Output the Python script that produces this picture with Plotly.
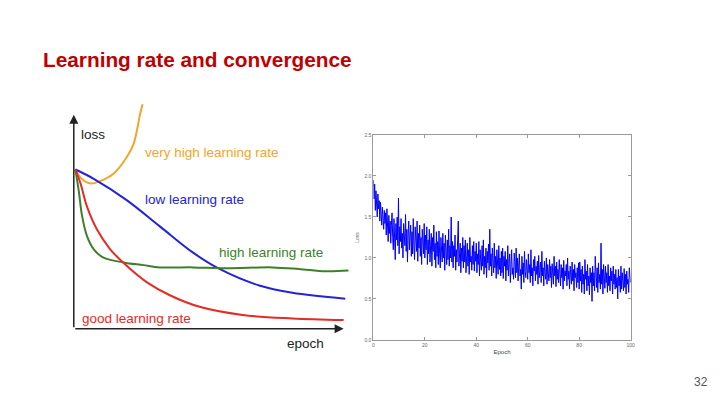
import plotly.graph_objects as go

# ---------------- Left schematic chart (arbitrary units 0-100) ----------------
very_high_epoch = [0.6, 2.5, 6.1, 9.8, 14.7, 19.6, 22.1, 23.6, 24.5, 25.5]
very_high_loss = [70.3, 66.7, 64.1, 65.2, 68.4, 75.7, 81.4, 88.7, 94.5, 99.1]

low_epoch = [0.6, 7.4, 19.6, 31.9, 44.2, 54.0, 68.7, 81.0, 100.6]
low_loss = [70.3, 66.2, 56.8, 45.2, 33.6, 26.4, 19.1, 15.9, 13.3]

high_epoch = [0.6, 1.8, 3.1, 4.9, 7.4, 11.0, 18.4, 25.8, 31.9, 44.2, 56.4, 73.6, 83.4, 93.3, 101.8]
high_loss = [70.3, 61.2, 49.6, 40.9, 35.1, 31.4, 29.3, 28.1, 27.1, 27.1, 26.7, 27.1, 26.4, 25.4, 25.7]

good_epoch = [0.6, 2.5, 4.9, 8.6, 13.5, 19.6, 27.0, 35.6, 46.6, 62.6, 81.0, 100.0]
good_loss = [70.3, 64.1, 53.9, 43.8, 35.1, 27.8, 20.6, 14.8, 9.7, 6.1, 4.6, 3.9]

# ---------------- Right training loss chart ----------------
epoch_step = 0.25
train_loss = [
    1.95, 1.72, 1.90, 1.58, 1.82, 1.65, 1.50, 1.78, 1.60, 1.70, 1.45, 1.68, 1.52, 1.40, 1.62, 1.48, 1.35, 1.58, 1.42, 1.55,
    1.28, 1.60, 1.38, 1.20, 1.52, 1.30, 1.45, 1.18, 1.40, 1.55, 1.25, 1.10, 1.48, 1.32, 0.98, 1.42, 1.22, 1.50, 1.15, 1.73,
    1.05, 1.38, 1.20, 1.48, 1.12, 1.30, 1.00, 1.42, 1.25, 1.15, 1.53, 1.08, 1.35, 0.95, 1.28, 1.45, 1.10, 1.22, 1.40, 1.02,
    1.32, 1.05, 1.48, 1.15, 0.98, 1.38, 1.22, 1.08, 1.45, 0.96, 1.30, 1.12, 1.40, 1.02, 1.25, 0.92, 1.35, 1.18, 1.05, 1.42,
    1.00, 1.28, 1.10, 1.38, 0.92, 1.22, 1.05, 1.35, 0.95, 1.15, 1.30, 0.90, 1.25, 1.08, 1.40, 0.98, 1.18, 0.88, 1.32, 1.02,
    1.20, 0.92, 1.33, 1.05, 0.88, 1.25, 1.10, 0.95, 1.30, 1.00, 1.18, 0.85, 1.28, 1.08, 0.92, 1.22, 0.98, 1.35, 0.90, 1.15,
    1.00, 1.50, 0.95, 1.20, 0.88, 1.15, 1.02, 1.28, 0.85, 1.10, 0.95, 1.22, 1.45, 0.90, 1.05, 1.18, 0.82, 1.12, 0.96, 1.25,
    0.88, 1.15, 0.95, 1.22, 0.82, 1.05, 1.18, 0.90, 1.10, 0.80, 1.25, 0.95, 1.02, 0.85, 1.15, 0.92, 1.20, 0.84, 1.08, 0.96,
    1.18, 0.82, 1.05, 0.92, 1.20, 0.78, 1.10, 0.95, 0.85, 1.15, 0.90, 1.22, 0.80, 1.02, 0.88, 1.12, 0.76, 1.08, 0.94, 1.17,
    0.85, 1.35, 0.90, 1.05, 0.78, 1.12, 0.95, 0.82, 1.18, 0.88, 1.02, 0.75, 1.10, 0.92, 0.80, 1.15, 0.86, 1.00, 0.78, 1.08,
    0.82, 1.12, 0.75, 1.02, 0.90, 1.08, 0.72, 0.98, 0.85, 1.15, 0.78, 0.95, 1.05, 0.70, 0.92, 1.10, 0.80, 0.88, 0.74, 1.06,
    0.95, 0.76, 1.12, 0.82, 1.00, 0.72, 0.90, 1.05, 0.78, 0.86, 0.62, 1.02, 0.80, 0.94, 0.70, 1.08, 0.84, 0.76, 0.98, 0.88,
    0.74, 1.05, 0.82, 0.92, 0.70, 1.10, 0.78, 0.88, 0.66, 0.98, 0.84, 1.02, 0.72, 0.90, 0.80, 0.96, 0.68, 1.03, 0.76, 0.86,
    0.95, 0.70, 1.08, 0.78, 0.88, 0.66, 0.96, 0.82, 0.74, 1.00, 0.68, 0.92, 0.80, 0.72, 0.98, 0.76, 0.90, 0.64, 0.93, 0.84,
    0.68, 1.02, 0.78, 0.90, 0.65, 0.95, 0.74, 0.86, 0.70, 0.98, 0.80, 0.66, 0.92, 0.76, 0.88, 0.62, 0.97, 0.72, 0.84, 0.78,
    0.92, 0.66, 1.00, 0.74, 0.84, 0.62, 0.90, 0.78, 0.68, 0.95, 0.72, 0.86, 0.60, 0.92, 0.76, 0.82, 0.64, 0.88, 0.70, 0.94,
    0.62, 0.95, 0.72, 0.86, 0.58, 0.90, 0.68, 0.80, 0.56, 0.98, 0.74, 0.84, 0.60, 0.92, 0.66, 0.78, 0.55, 0.88, 0.70, 0.82,
    0.47, 0.90, 0.66, 0.82, 0.60, 1.02, 0.72, 0.64, 0.88, 0.58, 0.94, 0.70, 0.80, 0.62, 1.18, 0.68, 0.86, 0.56, 0.92, 0.74,
    0.63, 0.90, 0.70, 0.82, 0.58, 0.92, 0.66, 0.78, 0.60, 0.88, 0.72, 0.84, 0.56, 0.90, 0.68, 0.80, 0.62, 0.86, 0.64, 0.76,
    0.50, 0.86, 0.66, 0.78, 0.58, 0.90, 0.62, 0.82, 0.70, 0.60, 0.87, 0.64, 0.80, 0.56, 0.84, 0.68, 0.74, 0.58, 0.88, 0.72,
    0.70,
]
train_epoch = [i * epoch_step for i in range(len(train_loss))]
x_ticks = [0, 20, 40, 60, 80, 100]
y_ticks = [0.0, 0.5, 1.0, 1.5, 2.0, 2.5]

ORANGE = "#f2a52b"
BLUE = "#2323d8"
GREEN = "#3f7f2b"
RED = "#e52b25"
FONT = "Liberation Sans, Arial, sans-serif"

fig = go.Figure()
for xs, ys, c in [(very_high_epoch, very_high_loss, ORANGE),
                  (low_epoch, low_loss, BLUE),
                  (high_epoch, high_loss, GREEN),
                  (good_epoch, good_loss, RED)]:
    fig.add_trace(go.Scatter(x=xs, y=ys, mode="lines", line=dict(color=c, width=2, shape="spline"),
                             xaxis="x", yaxis="y", showlegend=False, hoverinfo="skip"))

fig.add_trace(go.Scatter(x=train_epoch, y=train_loss, mode="lines",
                         line=dict(color="#0000ff", width=1),
                         xaxis="x2", yaxis="y2", showlegend=False))

fig.update_layout(
    width=720, height=405, margin=dict(l=0, r=0, t=0, b=0),
    paper_bgcolor="white", plot_bgcolor="rgba(0,0,0,0)",
    xaxis=dict(domain=[73.3 / 720, 353.2 / 720], range=[0, 103], visible=False, fixedrange=True),
    yaxis=dict(domain=[(405 - 330.7) / 405, (405 - 93.8) / 405], range=[0, 103], visible=False, fixedrange=True),
    xaxis2=dict(domain=[375 / 720, 634 / 720], range=[0, 100], anchor="y2",
                tickvals=x_ticks, ticktext=[str(v) for v in x_ticks],
                showline=True, linecolor="#9a9a9a", linewidth=1, mirror="ticks",
                ticks="inside", ticklen=3, tickcolor="#9a9a9a", showgrid=False, zeroline=False,
                tickfont=dict(size=5, color="#666", family=FONT),
                title=dict(text="Epoch", font=dict(size=6, color="#444", family=FONT), standoff=2)),
    yaxis2=dict(domain=[(405 - 342) / 405, (405 - 134) / 405], range=[0, 2.5], anchor="x2",
                tickvals=y_ticks, ticktext=["%.1f" % v for v in y_ticks],
                showline=True, linecolor="#9a9a9a", linewidth=1, mirror="ticks",
                ticks="inside", ticklen=3, tickcolor="#9a9a9a", showgrid=False, zeroline=False,
                tickfont=dict(size=5, color="#666", family=FONT),
                title=dict(text="Loss", font=dict(size=5, color="#666", family=FONT), standoff=4)),
)

# schematic axes with arrows
fig.add_annotation(x=0, y=94.5, ax=0, ay=0, xref="x", yref="y", axref="x", ayref="y",
                   showarrow=True, arrowhead=2, arrowsize=1.2, arrowwidth=1.5, arrowcolor="#222", text="")
fig.add_annotation(x=100, y=0, ax=0, ay=0, xref="x", yref="y", axref="x", ayref="y",
                   showarrow=True, arrowhead=2, arrowsize=1.2, arrowwidth=1.5, arrowcolor="#222", text="")

labels = [
    ("loss", 79, 133, "#222"),
    ("very high learning rate", 143, 152, ORANGE),
    ("low learning rate", 143, 199, BLUE),
    ("high learning rate", 218, 253, GREEN),
    ("good learning rate", 80, 320, RED),
    ("epoch", 286, 346, "#222"),
]
for txt, px, py, col in labels:
    fig.add_annotation(x=px / 720, y=1 - py / 405, xref="paper", yref="paper", text=txt,
                       showarrow=False, xanchor="left", yanchor="middle",
                       font=dict(size=13.5, color=col, family=FONT))

fig.add_annotation(x=40 / 720, y=1 - 57 / 405, xref="paper", yref="paper",
                   text="<b>Learning rate and convergence</b>", showarrow=False,
                   xanchor="left", yanchor="middle", font=dict(size=20.8, color="#c00000", family=FONT))
fig.add_annotation(x=714 / 720, y=1 - 385 / 405, xref="paper", yref="paper", text="32",
                   showarrow=False, xanchor="right", yanchor="middle",
                   font=dict(size=12, color="#555", family=FONT))

fig.write_html("out.html")
